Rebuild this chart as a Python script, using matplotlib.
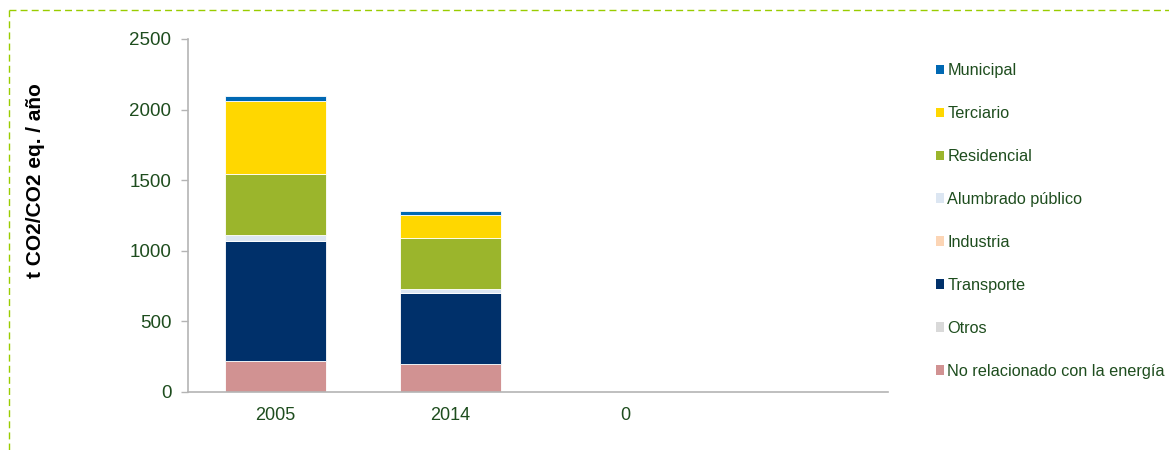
import matplotlib
matplotlib.use("Agg")
import matplotlib.pyplot as plt
from matplotlib.patches import Patch
from matplotlib.lines import Line2D

plt.rcParams['font.family'] = ['Liberation Sans', 'DejaVu Sans']

# -------------------------------
# Data (t CO2/CO2 eq. / año)
# -------------------------------
categories = ['2005', '2014', '0', '']

sectors = ['No relacionado con la energía', 'Otros', 'Transporte', 'Industria',
           'Alumbrado público', 'Residencial', 'Terciario', 'Municipal']

no_relacionado = [217, 198, 0, 0]
otros = [0, 0, 0, 0]
transporte = [850, 506, 0, 0]
industria = [0, 0, 0, 0]
alumbrado = [42, 23, 0, 0]
residencial = [435, 363, 0, 0]
terciario = [517, 166, 0, 0]
municipal = [35, 24, 0, 0]

colors = ['#d19292', '#d9d9d9', '#00306a', '#fcd5b5',
          '#dce6f2', '#9bb52c', '#ffd700', '#0068b3']

text_col = '#1e4d1e'
axis_col = '#b4b4b4'

# -------------------------------
# Figure
# -------------------------------
fig = plt.figure(figsize=(11.69, 4.5), dpi=100)
ax = fig.add_axes([188 / 1169, 1 - 392 / 450, 700 / 1169, 353 / 450])

series = [no_relacionado, otros, transporte, industria,
          alumbrado, residencial, terciario, municipal]
x = list(range(len(categories)))
bottom = [0] * len(categories)
for vals, col in zip(series, colors):
    ax.bar(x, vals, 0.575, bottom=bottom, color=col, edgecolor='white', linewidth=0.6)
    bottom = [b + v for b, v in zip(bottom, vals)]

ax.set_xlim(-0.5, 3.5)
ax.set_ylim(0, 2500)
ax.set_yticks([0, 500, 1000, 1500, 2000, 2500])
ax.set_xticks(x)
ax.set_xticklabels(categories)

for side in ['top', 'right']:
    ax.spines[side].set_visible(False)
for side in ['left', 'bottom']:
    ax.spines[side].set_color(axis_col)
    ax.spines[side].set_linewidth(1.2)

ax.tick_params(axis='y', colors=axis_col, labelcolor=text_col, labelsize=13.5,
               length=5, width=1, pad=7)
ax.tick_params(axis='x', length=0, labelcolor=text_col, labelsize=13, pad=11)

ax.set_ylabel('t CO2/CO2 eq. / año', fontsize=15, fontweight='bold', color='black')
ax.yaxis.set_label_coords((45 - 188) / 700, (392 - 181) / 353)

# Legend (reverse stacking order)
handles = [Patch(facecolor=c, edgecolor='none') for c in colors][::-1]
labels = sectors[::-1]
leg = fig.legend(handles, labels, loc='upper left', bbox_to_anchor=(936 / 1169, 1 - 63 / 450),
                 frameon=False, fontsize=11.7, labelspacing=1.72, handlelength=0.5,
                 handleheight=0.5, handletextpad=0.2, borderpad=0, borderaxespad=0)
for t in leg.get_texts():
    t.set_color(text_col)

# Dashed frame (top and left only)
frame_col = '#99cc00'
fig.add_artist(Line2D([9 / 1169, 1.0], [1 - 10 / 450, 1 - 10 / 450], transform=fig.transFigure,
                      color=frame_col, linestyle=(0, (5, 3)), linewidth=1))
fig.add_artist(Line2D([9 / 1169, 9 / 1169], [0, 1 - 10 / 450], transform=fig.transFigure,
                      color=frame_col, linestyle=(0, (5, 3)), linewidth=1))

fig.savefig('out.png', dpi=100)
